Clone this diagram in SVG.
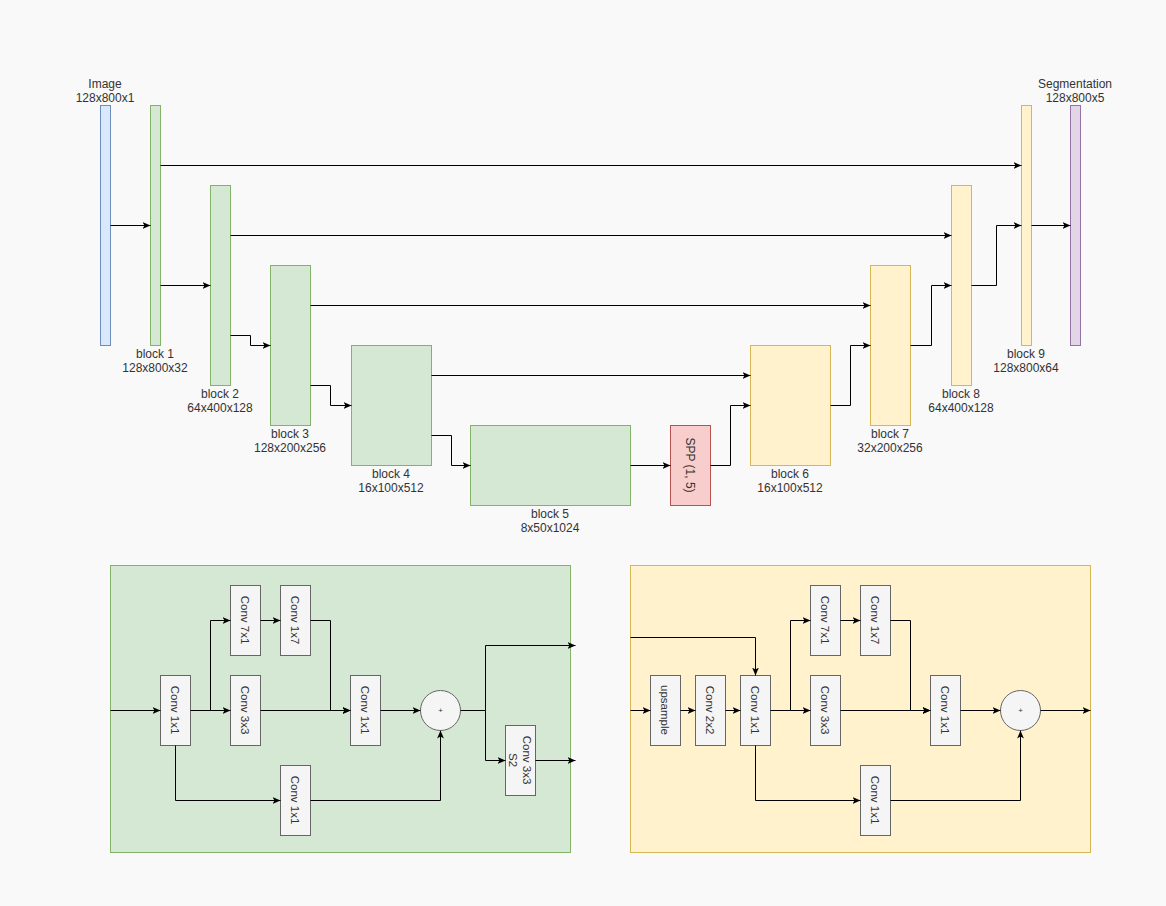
<svg xmlns="http://www.w3.org/2000/svg" width="1166" height="906" viewBox="0 0 1166 906">
<defs>
<marker id="arr" viewBox="0 0 8 8" refX="8" refY="4" markerWidth="8" markerHeight="8" orient="auto" markerUnits="userSpaceOnUse">
<path d="M0,0.6 L8,4 L0,7.4 L2,4 z" fill="#000"/>
</marker>
<style>
text{font-family:"Liberation Sans",Arial,Helvetica,sans-serif;fill:#333333;}
.lbl{font-size:12px;text-anchor:middle;}
.blue{fill:#dae8fc;stroke:#6c8ebf;}
.green{fill:#d5e8d4;stroke:#82b366;}
.yellow{fill:#fff2cc;stroke:#d6b656;}
.red{fill:#f8cecc;stroke:#b85450;}
.purple{fill:#e1d5e7;stroke:#9673a6;}
.op{fill:#f5f5f5;stroke:#666666;}
.rt{font-size:11.5px;text-anchor:middle;dominant-baseline:central;}
.plus{font-size:8px;text-anchor:middle;dominant-baseline:central;}
.c path{fill:none;stroke:#000;stroke-width:1;marker-end:url(#arr);}
.c path.n{marker-end:none;}
</style>
</defs>
<rect x="0" y="0" width="1166" height="906" fill="#f9f9f9"/>

<!-- Top network -->
<g id="image"><rect class="blue" x="100.5" y="105.5" width="10" height="240"/>
<text class="lbl" x="105" y="88">Image</text><text class="lbl" x="105" y="102">128x800x1</text></g>
<g id="block1"><rect class="green" x="150.5" y="105.5" width="10" height="240"/>
<text class="lbl" x="155" y="358">block 1</text><text class="lbl" x="155" y="372">128x800x32</text></g>
<g id="block2"><rect class="green" x="210.5" y="185.5" width="20" height="200"/>
<text class="lbl" x="220" y="398">block 2</text><text class="lbl" x="220" y="412">64x400x128</text></g>
<g id="block3"><rect class="green" x="270.5" y="265.5" width="40" height="160"/>
<text class="lbl" x="290" y="438">block 3</text><text class="lbl" x="290" y="452">128x200x256</text></g>
<g id="block4"><rect class="green" x="351.5" y="345.5" width="80" height="120"/>
<text class="lbl" x="391" y="478">block 4</text><text class="lbl" x="391" y="492">16x100x512</text></g>
<g id="block5"><rect class="green" x="470.5" y="425.5" width="160" height="80"/>
<text class="lbl" x="550" y="518">block 5</text><text class="lbl" x="550" y="532">8x50x1024</text></g>
<g id="spp"><rect class="red" x="670.5" y="425.5" width="40" height="80"/>
<text class="rt" style="font-size:12px" transform="translate(690,465) rotate(90)">SPP (1, 5)</text></g>
<g id="block6"><rect class="yellow" x="750.5" y="345.5" width="80" height="120"/>
<text class="lbl" x="790" y="478">block 6</text><text class="lbl" x="790" y="492">16x100x512</text></g>
<g id="block7"><rect class="yellow" x="870.5" y="265.5" width="40" height="160"/>
<text class="lbl" x="890" y="438">block 7</text><text class="lbl" x="890" y="452">32x200x256</text></g>
<g id="block8"><rect class="yellow" x="951.5" y="185.5" width="20" height="200"/>
<text class="lbl" x="961" y="398">block 8</text><text class="lbl" x="961" y="412">64x400x128</text></g>
<g id="block9"><rect class="yellow" x="1021.5" y="105.5" width="10" height="240"/>
<text class="lbl" x="1026" y="358">block 9</text><text class="lbl" x="1026" y="372">128x800x64</text></g>
<g id="segmentation"><rect class="purple" x="1070.5" y="105.5" width="10" height="240"/>
<text class="lbl" x="1075" y="88">Segmentation</text><text class="lbl" x="1075" y="102">128x800x5</text></g>

<!-- Bottom-left encoder block detail -->
<g id="enc-panel"><rect class="green" x="110.5" y="565.5" width="460" height="287"/></g>
<g id="enc-conv1x1-a"><rect class="op" x="160.5" y="675.5" width="30" height="70"/><text class="rt" transform="translate(175,710) rotate(90)">Conv 1x1</text></g>
<g id="enc-conv7x1"><rect class="op" x="230.5" y="585.5" width="30" height="70"/><text class="rt" transform="translate(245,620) rotate(90)">Conv 7x1</text></g>
<g id="enc-conv1x7"><rect class="op" x="280.5" y="585.5" width="30" height="70"/><text class="rt" transform="translate(295,620) rotate(90)">Conv 1x7</text></g>
<g id="enc-conv3x3"><rect class="op" x="230.5" y="675.5" width="30" height="70"/><text class="rt" transform="translate(245,710) rotate(90)">Conv 3x3</text></g>
<g id="enc-conv1x1-b"><rect class="op" x="280.5" y="765.5" width="30" height="70"/><text class="rt" transform="translate(295,800) rotate(90)">Conv 1x1</text></g>
<g id="enc-conv1x1-c"><rect class="op" x="350.5" y="675.5" width="30" height="70"/><text class="rt" transform="translate(365,710) rotate(90)">Conv 1x1</text></g>
<g id="enc-add"><circle class="op" cx="440.5" cy="710.5" r="20"/><text class="plus" x="440.5" y="710.5">+</text></g>
<g id="enc-conv3x3s2"><rect class="op" x="505.5" y="725.5" width="30" height="70"/><text class="rt" transform="translate(520,760) rotate(90)"><tspan x="0" dy="-7">Conv 3x3</tspan><tspan x="0" dy="14">S2</tspan></text></g>

<!-- Bottom-right decoder block detail -->
<g id="dec-panel"><rect class="yellow" x="630.5" y="565.5" width="460" height="287"/></g>
<g id="dec-upsample"><rect class="op" x="650.5" y="675.5" width="30" height="70"/><text class="rt" transform="translate(665,710) rotate(90)">upsample</text></g>
<g id="dec-conv2x2"><rect class="op" x="695.5" y="675.5" width="30" height="70"/><text class="rt" transform="translate(710,710) rotate(90)">Conv 2x2</text></g>
<g id="dec-conv1x1-a"><rect class="op" x="740.5" y="675.5" width="30" height="70"/><text class="rt" transform="translate(755,710) rotate(90)">Conv 1x1</text></g>
<g id="dec-conv7x1"><rect class="op" x="810.5" y="585.5" width="30" height="70"/><text class="rt" transform="translate(825,620) rotate(90)">Conv 7x1</text></g>
<g id="dec-conv1x7"><rect class="op" x="860.5" y="585.5" width="30" height="70"/><text class="rt" transform="translate(875,620) rotate(90)">Conv 1x7</text></g>
<g id="dec-conv3x3"><rect class="op" x="810.5" y="675.5" width="30" height="70"/><text class="rt" transform="translate(825,710) rotate(90)">Conv 3x3</text></g>
<g id="dec-conv1x1-b"><rect class="op" x="860.5" y="765.5" width="30" height="70"/><text class="rt" transform="translate(875,800) rotate(90)">Conv 1x1</text></g>
<g id="dec-conv1x1-c"><rect class="op" x="930.5" y="675.5" width="30" height="70"/><text class="rt" transform="translate(945,710) rotate(90)">Conv 1x1</text></g>
<g id="dec-add"><circle class="op" cx="1020.5" cy="710.5" r="20"/><text class="plus" x="1020.5" y="710.5">+</text></g>

<!-- Connectors -->
<g id="connectors" class="c">
<path d="M110.5,225.5 H150.5"/>
<path d="M160.5,285.5 H210.5"/>
<path d="M230.5,335.5 H250.5 V345.5 H270.5"/>
<path d="M310.5,385.5 H330.5 V405.5 H351.5"/>
<path d="M431.5,435.5 H451.5 V465.5 H470.5"/>
<path d="M630.5,465.5 H670.5"/>
<path d="M710.5,465.5 H730.5 V405.5 H750.5"/>
<path d="M830.5,405.5 H850.5 V345.5 H870.5"/>
<path d="M910.5,345.5 H931.5 V285.5 H951.5"/>
<path d="M971.5,285.5 H996.5 V225.5 H1021.5"/>
<path d="M1031.5,225.5 H1070.5"/>
<path d="M160.5,165.5 H1021.5"/>
<path d="M230.5,235.5 H951.5"/>
<path d="M310.5,305.5 H870.5"/>
<path d="M431.5,375.5 H750.5"/>

<path d="M110.5,710.5 H160.5"/>
<path d="M190.5,710.5 H230.5"/>
<path d="M210.5,710.5 V620.5 H230.5"/>
<path d="M260.5,620.5 H280.5"/>
<path d="M310.5,620.5 H330.5 V710.5 H350.5"/>
<path d="M260.5,710.5 H350.5"/>
<path d="M175.5,745.5 V800.5 H280.5"/>
<path d="M310.5,800.5 H440.5 V730.5"/>
<path d="M380.5,710.5 H420.5"/>
<path class="n" d="M460.5,710.5 H485.5"/>
<path d="M485.5,710.5 V645.5 H575.5"/>
<path d="M485.5,710.5 V760.5 H505.5"/>
<path d="M535.5,760.5 H575.5"/>

<path d="M630.5,710.5 H650.5"/>
<path d="M680.5,710.5 H695.5"/>
<path d="M725.5,710.5 H740.5"/>
<path d="M630.5,637.5 H755.5 V675.5"/>
<path d="M770.5,710.5 H810.5"/>
<path d="M790.5,710.5 V620.5 H810.5"/>
<path d="M840.5,620.5 H860.5"/>
<path d="M890.5,620.5 H910.5 V710.5 H930.5"/>
<path d="M840.5,710.5 H930.5"/>
<path d="M755.5,745.5 V800.5 H860.5"/>
<path d="M890.5,800.5 H1020.5 V730.5"/>
<path d="M960.5,710.5 H1000.5"/>
<path d="M1040.5,710.5 H1090.5"/>
</g>
</svg>
